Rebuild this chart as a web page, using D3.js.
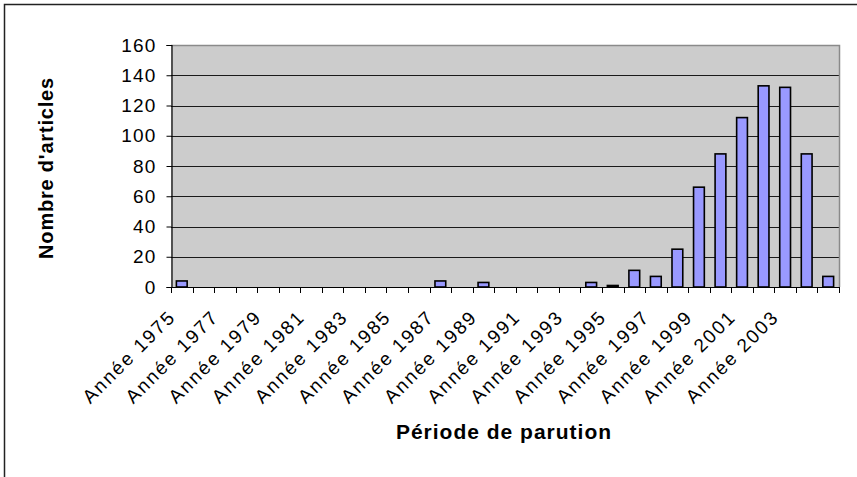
<!DOCTYPE html>
<html>
<head>
<meta charset="utf-8">
<script src="https://cdn.jsdelivr.net/npm/d3@7"></script>
<style>
  body { margin: 0; background: #fff; }
  svg { display: block; font-family: "Liberation Sans", Arial, sans-serif; }
</style>
</head>
<body>
<svg id="mainsvg" width="857" height="477"></svg>
<script>
// categories (one per year) and article counts
let years = [1975, 1976, 1977, 1978, 1979, 1980, 1981, 1982, 1983, 1984,
             1985, 1986, 1987, 1988, 1989, 1990, 1991, 1992, 1993, 1994,
             1995, 1996, 1997, 1998, 1999, 2000, 2001, 2002, 2003, 2004, 2005];
let counts = [4, 0, 0, 0, 0, 0, 0, 0, 0, 0,
              0, 0, 4, 0, 3, 0, 0, 0, 0, 3,
              1, 11, 7, 25, 66, 88, 112, 133, 132, 88, 7];
// labels shown under the axis (every other year)
let labelYears = [1975, 1977, 1979, 1981, 1983, 1985, 1987, 1989,
                  1991, 1993, 1995, 1997, 1999, 2001, 2003];
let yTicks = [0, 20, 40, 60, 80, 100, 120, 140, 160];
let yTitle = "Nombre d'articles";
let xTitle = "Période de parution";

let svg = d3.select("#mainsvg");
let plot = {left: 171, right: 839, top: 45, bottom: 287};

// outer chart frame (only top and left edges are visible)
svg.append("rect")
    .attr("x", 4.5).attr("y", 4.5)
    .attr("width", 1000).attr("height", 1000)
    .attr("fill", "none")
    .attr("stroke", "#222")
    .attr("stroke-width", 1.5);

let x = d3.scaleBand()
    .domain(years)
    .range([plot.left, plot.right])
    .paddingInner(0.5)
    .paddingOuter(0.25);
let y = d3.scaleLinear()
    .domain([0, 160])
    .range([plot.bottom, plot.top]);

// plot area
svg.append("rect")
    .attr("x", plot.left).attr("y", plot.top)
    .attr("width", plot.right - plot.left)
    .attr("height", plot.bottom - plot.top)
    .attr("fill", "#cccccc");

// gridlines
svg.append("g").selectAll("line")
    .data(yTicks.filter(d => d > 0 && d < 160))
    .enter().append("line")
    .attr("x1", plot.left).attr("x2", plot.right)
    .attr("y1", d => Math.round(y(d)) + 0.5)
    .attr("y2", d => Math.round(y(d)) + 0.5)
    .attr("stroke", "#1a1a1a")
    .attr("stroke-width", 1);

// plot border top/right
svg.append("path")
    .attr("d", "M" + plot.left + "," + (plot.top + 0.5) + "H" + (plot.right + 0.5) + "V" + plot.bottom)
    .attr("fill", "none")
    .attr("stroke", "#8a8a8a")
    .attr("stroke-width", 1.5);

// bars
svg.append("g").selectAll("rect")
    .data(years.map((yr, i) => ({year: yr, value: counts[i]})).filter(d => d.value > 0))
    .enter().append("rect")
    .attr("x", d => x(d.year))
    .attr("y", d => y(d.value))
    .attr("width", x.bandwidth())
    .attr("height", d => y(0) - y(d.value))
    .attr("fill", "#9999ff")
    .attr("stroke", "#000")
    .attr("stroke-width", 1.6);

// y axis
let yAxis = svg.append("g")
    .attr("transform", "translate(" + (plot.left + 0.5) + ",0)")
    .call(d3.axisLeft(y).tickValues(yTicks).tickSize(5).tickPadding(10));
yAxis.select(".domain").attr("stroke", "#000").attr("stroke-width", 1.2);
yAxis.selectAll(".tick line").attr("stroke", "#000");
yAxis.selectAll(".tick text")
    .attr("font-size", "19px")
    .attr("letter-spacing", "1.2px")
    .attr("font-family", "Liberation Sans, Arial, sans-serif")
    .attr("fill", "#000");

// x axis: line, ticks at category boundaries, rotated labels
let step = x.step();
let xAxis = svg.append("g");
xAxis.append("line")
    .attr("x1", plot.left).attr("x2", plot.right)
    .attr("y1", plot.bottom + 0.5).attr("y2", plot.bottom + 0.5)
    .attr("stroke", "#000").attr("stroke-width", 1.2);
let bounds = years.map(yr => x(yr) - step * 0.25).concat([x(years[years.length - 1]) + step * 0.75]);
xAxis.selectAll(".xt").data(bounds).enter().append("line")
    .attr("class", "xt")
    .attr("x1", d => Math.round(d) + 0.5).attr("x2", d => Math.round(d) + 0.5)
    .attr("y1", plot.bottom).attr("y2", plot.bottom + 6)
    .attr("stroke", "#000");
xAxis.selectAll(".xl").data(labelYears).enter().append("text")
    .attr("class", "xl")
    .attr("transform", d => "translate(" + (x(d) + x.bandwidth() / 2 - 5) + "," + (plot.bottom + 31) + ") rotate(-45)")
    .attr("text-anchor", "end")
    .attr("font-size", "19px")
    .attr("letter-spacing", "2px")
    .text(d => "Année " + d);

// axis titles
svg.append("text")
    .attr("transform", "translate(53,168) rotate(-90)")
    .attr("text-anchor", "middle")
    .attr("font-size", "20px")
    .attr("font-weight", "bold")
    .attr("letter-spacing", "0.8px")
    .text(yTitle);
svg.append("text")
    .attr("x", 504).attr("y", 439)
    .attr("text-anchor", "middle")
    .attr("font-size", "21px")
    .attr("font-weight", "bold")
    .attr("letter-spacing", "1px")
    .text(xTitle);
</script>
</body>
</html>
